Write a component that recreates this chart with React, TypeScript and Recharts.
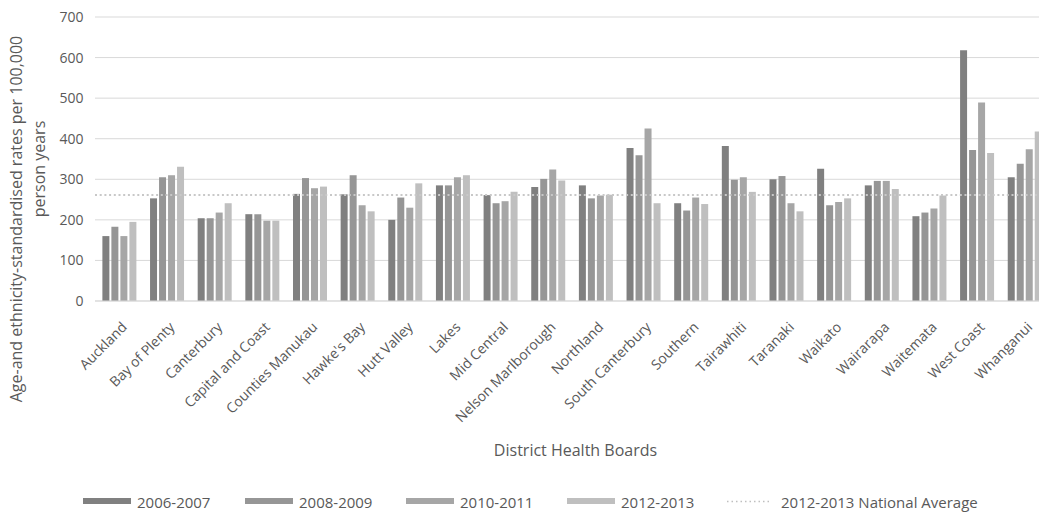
import React from "react";
import {
  BarChart,
  Bar,
  XAxis,
  YAxis,
  CartesianGrid,
  ReferenceLine,
} from "recharts";

const boards = [
  "Auckland",
  "Bay of Plenty",
  "Canterbury",
  "Capital and Coast",
  "Counties Manukau",
  "Hawke's Bay",
  "Hutt Valley",
  "Lakes",
  "Mid Central",
  "Nelson Marlborough",
  "Northland",
  "South Canterbury",
  "Southern",
  "Tairawhiti",
  "Taranaki",
  "Waikato",
  "Wairarapa",
  "Waitemata",
  "West Coast",
  "Whanganui",
];

const rates0607 = [160, 253, 204, 214, 264, 263, 200, 285, 261, 281, 285, 377, 241, 382, 300, 326, 285, 209, 618, 305];
const rates0809 = [183, 305, 204, 214, 303, 310, 255, 285, 241, 301, 253, 359, 223, 299, 308, 236, 296, 218, 372, 338];
const rates1011 = [160, 310, 218, 198, 278, 236, 230, 305, 246, 324, 260, 425, 255, 305, 241, 244, 296, 228, 489, 374];
const rates1213 = [195, 331, 241, 198, 282, 221, 290, 310, 269, 297, 262, 241, 239, 269, 221, 253, 276, 260, 365, 418];

const nationalAverage = 261;
const yTicks = [0, 100, 200, 300, 400, 500, 600, 700];

const periods = [
  { key: "p0607", label: "2006-2007", color: "#808080" },
  { key: "p0809", label: "2008-2009", color: "#969696" },
  { key: "p1011", label: "2010-2011", color: "#a6a6a6" },
  { key: "p1213", label: "2012-2013", color: "#bfbfbf" },
];

const data = boards.map((name, i) => ({
  name,
  p0607: rates0607[i],
  p0809: rates0809[i],
  p1011: rates1011[i],
  p1213: rates1213[i],
}));

const FONT = "'Open Sans', sans-serif";
const TEXT = "#595959";

function BoardTick(props: any) {
  const { x, y, payload } = props;
  const ax = x + 9;
  const ay = y + 27;
  return (
    <text
      x={ax}
      y={ay}
      transform={`rotate(-45, ${ax}, ${ay})`}
      textAnchor="end"
      fill={TEXT}
      fontSize={14}
      fontFamily={FONT}
    >
      {payload.value}
    </text>
  );
}

function LegendRow() {
  const starts = [83, 245, 406, 567];
  return (
    <svg
      width={1039}
      height={30}
      style={{ position: "absolute", left: 0, top: 490 }}
    >
      {periods.map((p, i) => (
        <g key={p.key}>
          <rect x={starts[i]} y={8} width={48} height={6} fill={p.color} />
          <text
            x={starts[i] + 54}
            y={18}
            fill={TEXT}
            fontSize={15}
            fontFamily={FONT}
          >
            {p.label}
          </text>
        </g>
      ))}
      <line
        x1={727}
        x2={772}
        y1={11.5}
        y2={11.5}
        stroke="#bfbfbf"
        strokeWidth={1.5}
        strokeDasharray="1.5 3"
      />
      <text x={781} y={18} fill={TEXT} fontSize={15} fontFamily={FONT}>
        2012-2013 National Average
      </text>
    </svg>
  );
}

export default function App() {
  return (
    <div
      style={{
        position: "fixed",
        left: 0,
        top: 0,
        width: 1039,
        height: 512,
        overflow: "hidden",
        background: "#fff",
      }}
    >
      <BarChart
        width={1060}
        height={512}
        data={data}
        margin={{ top: 17, right: 12, left: 0, bottom: 0 }}
        barCategoryGap="15.5%"
        barGap={2}
      >
        <CartesianGrid vertical={false} stroke="#d9d9d9" />
        <XAxis
          dataKey="name"
          interval={0}
          height={211}
          tickLine={false}
          tickSize={0}
          tickMargin={0}
          axisLine={{ stroke: "#d9d9d9" }}
          tick={(p: any) => <BoardTick {...p} />}
        />
        <YAxis
          width={95}
          domain={[0, 700]}
          ticks={yTicks}
          axisLine={false}
          tickLine={false}
          tickSize={0}
          tickMargin={11.5}
          tick={{ fill: TEXT, fontSize: 14, fontFamily: FONT }}
        />
        {periods.map((p) => (
          <Bar
            key={p.key}
            dataKey={p.key}
            name={p.label}
            fill={p.color}
            isAnimationActive={false}
          />
        ))}
        <ReferenceLine
          y={nationalAverage}
          stroke="#c8c8c8"
          strokeWidth={2}
          strokeDasharray="2 2.7"
        />
      </BarChart>

      <svg
        width={70}
        height={512}
        style={{ position: "absolute", left: 0, top: 0 }}
      >
        <text
          x={22}
          y={219}
          transform="rotate(-90, 22, 219)"
          textAnchor="middle"
          fill={TEXT}
          fontSize={16}
          fontFamily={FONT}
        >
          Age-and ethnicity-standardised rates per 100,000
        </text>
        <text
          x={45}
          y={169}
          transform="rotate(-90, 45, 169)"
          textAnchor="middle"
          fill={TEXT}
          fontSize={16}
          fontFamily={FONT}
        >
          person years
        </text>
      </svg>

      <div
        style={{
          position: "absolute",
          left: 0,
          top: 440,
          width: 1151,
          textAlign: "center",
          color: TEXT,
          fontSize: 16,
          fontFamily: FONT,
          lineHeight: "20px",
        }}
      >
        District Health Boards
      </div>

      <LegendRow />
    </div>
  );
}
